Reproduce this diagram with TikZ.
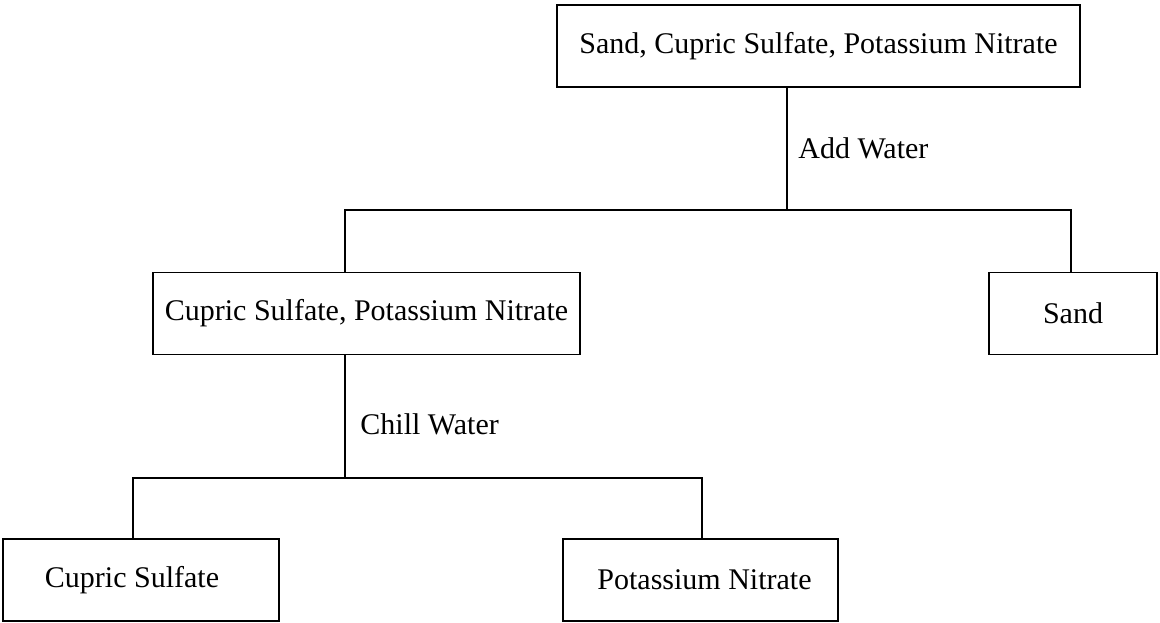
\documentclass[tikz,border=0pt]{standalone}
\usepackage{fontspec}
\setmainfont{Liberation Serif}
\begin{document}
\begin{tikzpicture}[x=0.5pt,y=-0.5pt,
  box/.style={draw,line width=0.75pt,inner sep=0pt,minimum height=41pt,font=\fontsize{15}{18}\selectfont},
  conn/.style={line width=0.75pt},
  lbl/.style={anchor=west,inner sep=0pt,font=\fontsize{15}{18}\selectfont}]
\useasboundingbox (0,0) rectangle (1160,622);
\node[box,minimum width=261.5pt] (top) at (818.5,46) {Sand, Cupric Sulfate, Potassium Nitrate};
\node[box,minimum width=213.5pt] (mid) at (366.5,313.5) {Cupric Sulfate, Potassium Nitrate};
\node[box,minimum width=84pt] (sand) at (1073,313.5) {Sand};
\node[box,minimum width=138pt] (cs) at (141,580) {Cupric Sulfate\hspace*{9pt}};
\node[box,minimum width=137.5pt] (pn) at (700.5,580) {\hspace*{4pt}Potassium Nitrate};
\coordinate (j1) at (787,210);
\coordinate (j1l) at (345,210);
\coordinate (j1r) at (1071,210);
\coordinate (j2) at (345,478);
\coordinate (j2l) at (133,478);
\coordinate (j2r) at (702,478);
\draw[conn] (top.south -| j1) -- (j1);
\draw[conn] (mid.north -| j1l) -- (j1l) -- (j1r) -- (sand.north -| j1r);
\draw[conn] (mid.south -| j2) -- (j2);
\draw[conn] (cs.north -| j2l) -- (j2l) -- (j2r) -- (pn.north -| j2r);
\node[lbl] (l1) at (798,148) {Add Water};
\node[lbl] (l2) at (360,424) {Chill Water};
\end{tikzpicture}
\end{document}
